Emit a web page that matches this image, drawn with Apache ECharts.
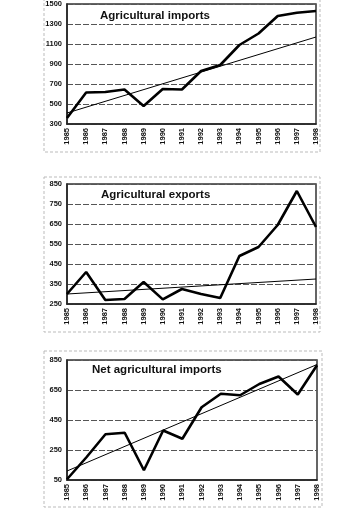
<!DOCTYPE html>
<html>
<head>
<meta charset="utf-8">
<script src="https://cdn.jsdelivr.net/npm/echarts@6/dist/echarts.min.js"></script>
<style>
html,body{margin:0;padding:0;background:#fff;}
#c{width:361px;height:511px;}
</style>
</head>
<body>
<div id="c"></div>
<script>
var years = ['1985','1986','1987','1988','1989','1990','1991','1992','1993','1994','1995','1996','1997','1998'];
var importsVals = [360,615,620,645,480,650,645,830,890,1090,1205,1380,1413,1430];
var exportsVals = [300,410,270,275,360,273,325,300,280,490,535,645,815,635];
var netVals = [55,200,355,365,115,380,325,535,625,615,690,740,620,815];
var importsTrend = [410,1170];
var exportsTrend = [300,375];
var netTrend = [110,820];
var titles = ['Agricultural imports','Agricultural exports','Net agricultural imports'];
var yMins = [300,250,50];
var yMaxs = [1500,850,850];
var yIntervals = [200,100,200];

var chart = echarts.init(document.getElementById('c'));
var grids = [
  {left:67, top:4, width:249, height:120},
  {left:67, top:184, width:249, height:120},
  {left:67, top:360, width:250, height:120}
];
var font = '"Liberation Sans", Arial, sans-serif';
var xAxes = [], yAxes = [], series = [];
var allVals = [importsVals, exportsVals, netVals];
var allTrend = [importsTrend, exportsTrend, netTrend];
for (var i = 0; i < 3; i++) {
  grids[i].show = true;
  grids[i].borderColor = '#333';
  grids[i].borderWidth = 1.5;
  grids[i].backgroundColor = '#fff';
  xAxes.push({
    type:'category', gridIndex:i, data:years, boundaryGap:false,
    axisLine:{show:true, lineStyle:{color:'#222', width:1.5}},
    axisTick:{show:false},
    axisLabel:{rotate:90, fontSize:7.5, fontWeight:'bold', color:'#111', fontFamily:font, margin:4, interval:0},
    splitLine:{show:false}
  });
  yAxes.push({
    type:'value', gridIndex:i, min:yMins[i], max:yMaxs[i], interval:yIntervals[i],
    axisLine:{show:true, lineStyle:{color:'#222', width:1.5}},
    axisTick:{show:false},
    axisLabel:{fontSize:7.5, fontWeight:'bold', color:'#111', fontFamily:font, margin:5,
      formatter:function(v){ return String(v); }},
    splitLine:{show:true, lineStyle:{color:'#555', width:1, type:[6,2]}}
  });
  series.push({
    type:'line', xAxisIndex:i, yAxisIndex:i, data:allVals[i],
    symbol:'none', lineStyle:{color:'#000', width:2.6}, z:3, animation:false
  });
  series.push({
    type:'line', xAxisIndex:i, yAxisIndex:i,
    data:[[years[0], allTrend[i][0]], [years[years.length-1], allTrend[i][1]]],
    symbol:'none', lineStyle:{color:'#000', width:1}, z:2, animation:false
  });
}
var titleCfg = [
  {text:titles[0], left:100, top:10},
  {text:titles[1], left:101, top:189},
  {text:titles[2], left:92, top:364}
].map(function(t){
  t.textStyle = {fontSize:11.5, fontWeight:'bold', color:'#111', fontFamily:font};
  t.padding = 0;
  return t;
});
chart.setOption({
  backgroundColor:'#fff',
  animation:false,
  title:titleCfg,
  grid:grids,
  xAxis:xAxes,
  yAxis:yAxes,
  series:series,
  graphic:[
    {type:'rect', shape:{x:44, y:-5, width:276, height:157}, style:{fill:'none', stroke:'#bbb', lineWidth:1, lineDash:[3,2]}, z:-1},
    {type:'rect', shape:{x:44, y:177, width:276, height:155}, style:{fill:'none', stroke:'#bbb', lineWidth:1, lineDash:[3,2]}, z:-1},
    {type:'rect', shape:{x:44, y:351, width:278, height:156}, style:{fill:'none', stroke:'#bbb', lineWidth:1, lineDash:[3,2]}, z:-1}
  ]
});
</script>
</body>
</html>
